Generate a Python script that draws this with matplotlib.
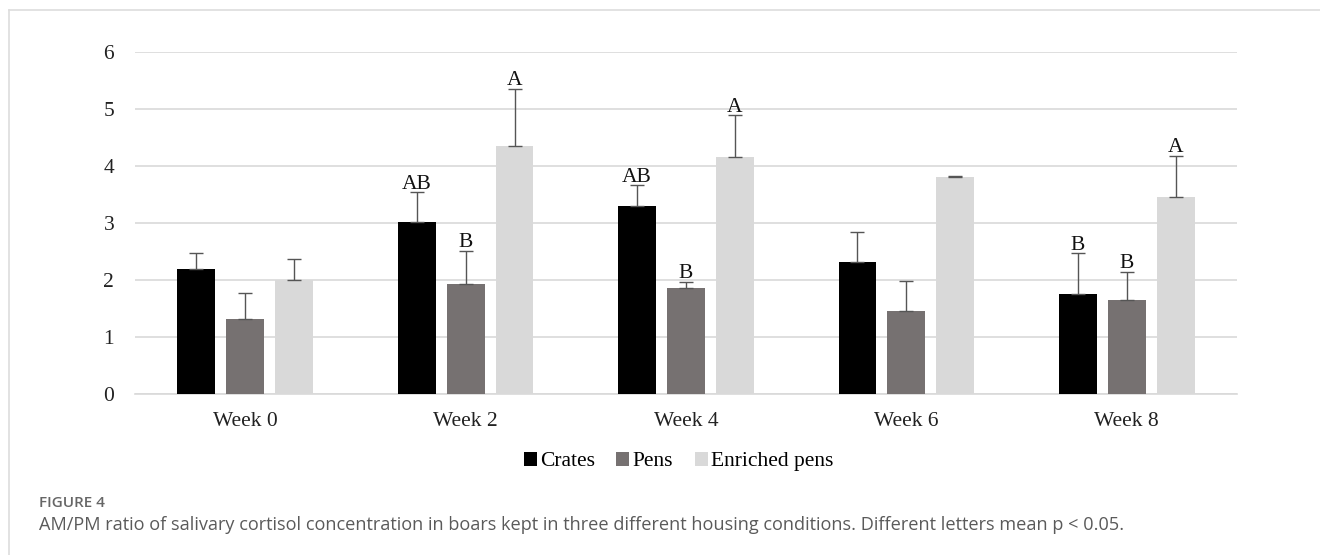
import numpy as np
import matplotlib
matplotlib.use('Agg')
import matplotlib.pyplot as plt
from matplotlib.lines import Line2D
from matplotlib.patches import Patch

# Semanas de muestreo y grupos de alojamiento
semanas = ['Week 0', 'Week 2', 'Week 4', 'Week 6', 'Week 8']
grupos = ['Crates', 'Pens', 'Enriched pens']
colores = ['#000000', '#767171', '#d9d9d9']

# Razón AM/PM de cortisol (media) por grupo
crates = [2.20, 3.01, 3.29, 2.31, 1.75]
pens = [1.31, 1.93, 1.86, 1.46, 1.65]
enriched = [2.00, 4.35, 4.15, 3.80, 3.45]

# Error estándar (solo hacia arriba)
err_crates = [0.27, 0.53, 0.37, 0.54, 0.72]
err_pens = [0.46, 0.58, 0.11, 0.53, 0.49]
err_enriched = [0.37, 1.00, 0.74, 0.03, 0.73]

# Letras de significancia (cadena vacía = sin letra)
let_crates = ['', 'AB', 'AB', '', 'B']
let_pens = ['', 'B', 'B', '', 'B']
let_enriched = ['', 'A', 'A', '', 'A']

medias = [crates, pens, enriched]
errores = [err_crates, err_pens, err_enriched]
letras = [let_crates, let_pens, let_enriched]

serif = 'Liberation Serif'
tam = 15.5
fig = plt.figure(figsize=(13.2, 5.55), dpi=100)
ax = fig.add_axes([0.1023, 0.2901, 0.8348, 0.6162])

x = np.arange(len(semanas))
ancho = 0.172
paso = 0.222

for i in range(len(grupos)):
    pos = x + (i - 1) * paso
    ax.bar(pos, medias[i], width=ancho, color=colores[i], zorder=3)
    ax.errorbar(pos, medias[i], yerr=[np.zeros(len(semanas)), errores[i]],
                fmt='none', ecolor='#555555', elinewidth=1.0, capsize=5,
                capthick=1.0, zorder=4)
    for j in range(len(semanas)):
        if letras[i][j]:
            ax.annotate(letras[i][j], (pos[j], medias[i][j] + errores[i][j]),
                        xytext=(0, -1), textcoords='offset points',
                        ha='center', va='bottom', fontsize=tam,
                        family=serif, color='#111111')

ax.set_xlim(-0.5, 4.5)
ax.set_ylim(0, 6)
ax.set_yticks(range(0, 7))
ax.set_xticks(x)
ax.set_xticklabels(semanas)
ax.yaxis.grid(True, color='#d9d9d9', linewidth=1.2, zorder=0)
ax.set_axisbelow(True)
for lado in ['top', 'right', 'left']:
    ax.spines[lado].set_visible(False)
ax.spines['bottom'].set_color('#d9d9d9')
ax.spines['bottom'].set_linewidth(1.2)
ax.tick_params(axis='both', length=0, labelsize=tam, colors='#222222')
ax.tick_params(axis='y', pad=15)
ax.tick_params(axis='x', pad=13)
for t in ax.get_xticklabels() + ax.get_yticklabels():
    t.set_family(serif)

manejadores = [Patch(facecolor=c, edgecolor='none') for c in colores]
fig.legend(manejadores, grupos, loc='center', bbox_to_anchor=(0.514, 0.168),
           ncol=3, frameon=False, prop={'family': serif, 'size': tam},
           handlelength=0.6, handleheight=0.6, handletextpad=0.15,
           columnspacing=1.0)

# Marco del panel de la figura
fig.add_artist(Line2D([0.0068, 1.0], [0.982, 0.982], color='#dddddd',
                      linewidth=1.2, transform=fig.transFigure))
fig.add_artist(Line2D([0.0068, 0.0068], [0.0, 0.982], color='#dddddd',
                      linewidth=1.2, transform=fig.transFigure))

# Pie de figura
fig.text(0.0295, 1 - 503 / 555, 'FIGURE 4', family='Open Sans',
         weight='semibold', fontsize=11, color='#666666', va='center')
fig.text(0.0295, 1 - 525 / 555,
         'AM/PM ratio of salivary cortisol concentration in boars kept in three '
         'different housing conditions. Different letters mean p < 0.05.',
         family='Open Sans', fontsize=13.1, color='#5a5a5a', va='center')

fig.savefig('out.png', dpi=100)
